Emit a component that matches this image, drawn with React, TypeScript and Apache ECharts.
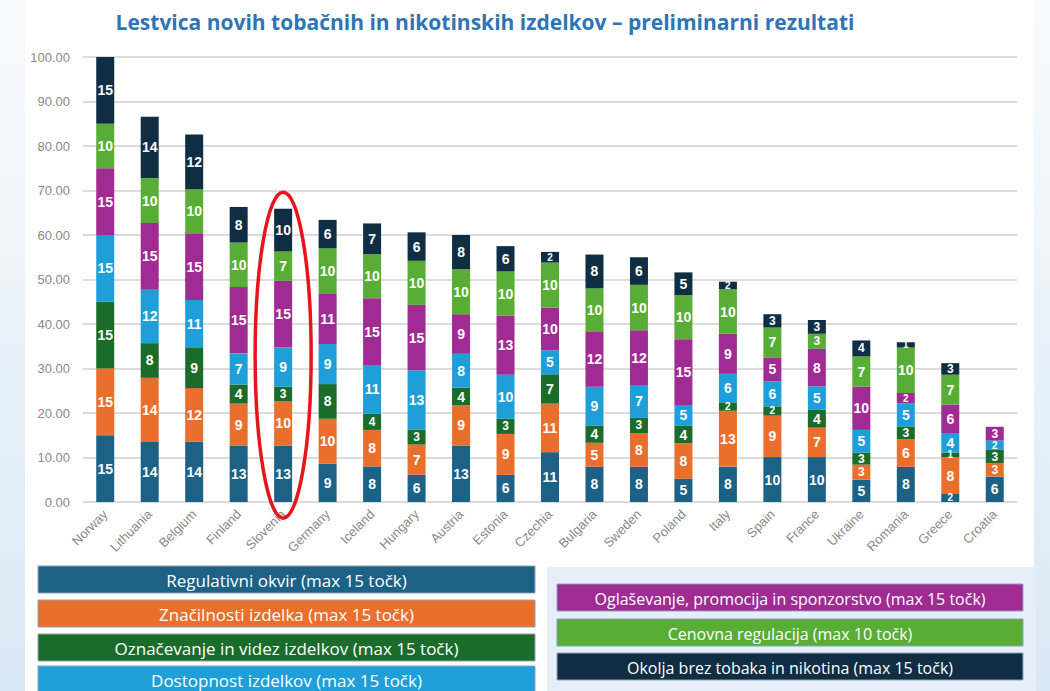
import React, { useEffect, useRef } from "react";
import * as echarts from "echarts";

const countries = ["Norway", "Lithuania", "Belgium", "Finland", "Slovenia", "Germany", "Iceland", "Hungary", "Austria", "Estonia", "Czechia", "Bulgaria", "Sweden", "Poland", "Italy", "Spain", "France", "Ukraine", "Romania", "Greece", "Croatia"];

const regulativni = [15, 13.5, 13.6, 12.7, 12.7, 8.6, 8.0, 6.1, 12.7, 6.1, 11.2, 7.9, 7.9, 5.2, 7.9, 10.1, 10.1, 5.0, 7.9, 1.8, 5.7];
const znacilnosti = [15, 14.4, 12.0, 9.4, 9.9, 10.1, 8.2, 6.8, 9.0, 9.2, 10.9, 5.4, 7.6, 8.0, 12.6, 9.3, 6.6, 3.4, 6.2, 8.3, 3.0];
const oznacevanje = [15, 7.8, 9.0, 4.3, 3.3, 7.8, 3.6, 3.4, 4.0, 3.4, 6.6, 3.9, 3.4, 3.9, 1.9, 2.1, 4.0, 2.7, 2.9, 1.0, 3.0];
const dostopnost = [15, 12.0, 10.8, 7.0, 8.8, 9.0, 11.0, 13.3, 7.6, 9.9, 5.4, 8.7, 7.4, 4.7, 6.4, 5.6, 5.3, 5.1, 5.2, 4.4, 2.1];
const oglasevanje = [15, 15.0, 15.0, 14.9, 15.0, 11.4, 15.0, 14.7, 8.9, 13.3, 9.6, 12.3, 12.3, 14.8, 9.0, 5.4, 8.4, 9.7, 2.3, 6.4, 3.1];
const cenovna = [10, 10.1, 9.9, 10.0, 6.6, 10.1, 9.9, 9.9, 10.1, 9.9, 10.1, 9.8, 10.2, 9.9, 10.0, 6.7, 3.4, 6.8, 10.2, 6.7, 0];
const okolja = [15, 13.8, 12.3, 8.0, 9.6, 6.4, 6.9, 6.4, 7.7, 5.7, 2.4, 7.6, 6.2, 5.1, 1.7, 3.0, 3.1, 3.6, 1.2, 2.6, 0];

const seriesNames = [
  "Regulativni okvir (max 15 točk)",
  "Značilnosti izdelka (max 15 točk)",
  "Označevanje in videz izdelkov (max 15 točk)",
  "Dostopnost izdelkov (max 15 točk)",
  "Oglaševanje, promocija in sponzorstvo (max 15 točk)",
  "Cenovna regulacija (max 10 točk)",
  "Okolja brez tobaka in nikotina (max 15 točk)",
];
const seriesValues = [regulativni, znacilnosti, oznacevanje, dostopnost, oglasevanje, cenovna, okolja];
const colors = ["#1c6287", "#ea6f2d", "#1b6b2b", "#1e9fd9", "#9f2b93", "#58ad34", "#0f2e44"];
const yTicks = [0, 10, 20, 30, 40, 50, 60, 70, 80, 90, 100];

const title = "Lestvica novih tobačnih in nikotinskih izdelkov – preliminarni rezultati";
const highlighted = "Slovenia";

export default function App() {
  const ref = useRef<HTMLDivElement>(null);
  useEffect(() => {
    if (!ref.current) return;
    const chart = echarts.init(ref.current, null, { renderer: "svg" });
    const series = seriesNames.map((name, i) => ({
      name,
      type: "bar",
      stack: "total",
      barWidth: 18,
      data: seriesValues[i].map((v) =>
        v < 2.5
          ? { value: v, label: { fontSize: 10, lineHeight: 10 } }
          : v < 3.7
          ? { value: v, label: { fontSize: 12, lineHeight: 12 } }
          : v
      ),
      itemStyle: { color: colors[i] },
      label: {
        show: true,
        position: "inside",
        color: "#ffffff",
        fontWeight: "bold",
        fontSize: 14,
        fontFamily: "Liberation Sans, Arial, sans-serif",
        formatter: (p: any) => (p.value > 0 ? String(Math.round(p.value)) : ""),
      },
    }));
    chart.setOption({
      animation: false,
      backgroundColor: "#ffffff",
      grid: { left: 83, right: 33, top: 57, bottom: 189, containLabel: false },
      xAxis: {
        type: "category",
        data: countries,
        axisLine: { show: false },
        axisTick: { show: false },
        axisLabel: { rotate: 45, color: "#8a8a8a", fontSize: 13, margin: 10, fontFamily: "Liberation Sans, Arial, sans-serif" },
      },
      yAxis: {
        type: "value",
        min: yTicks[0],
        max: yTicks[yTicks.length - 1],
        interval: 10,
        axisLine: { show: false },
        axisTick: { show: false },
        axisLabel: { color: "#8a8a8a", fontSize: 13, margin: 13, formatter: (v: number) => v.toFixed(2), fontFamily: "Liberation Sans, Arial, sans-serif" },
        splitLine: { lineStyle: { color: "#dcdcdc", width: 2 } },
      },
      series,
    });

    const px = Number(chart.convertToPixel({ xAxisIndex: 0 } as any, highlighted));
    const cy = Number(chart.convertToPixel({ yAxisIndex: 0 } as any, 33));

    const leftBoxes = [0, 1, 2, 3].map((i) => ({ idx: i, x: 38, y: [566, 600, 634, 666][i], w: 497, h: 27, fs: 17 }));
    const rightBoxes = [4, 5, 6].map((i, k) => ({ idx: i, x: 557, y: [584, 619, 653][k], w: 466, h: 27, fs: 16 }));
    const boxes = [...leftBoxes, ...rightBoxes];

    const stripGrad = new echarts.graphic.LinearGradient(0, 0, 0, 1, [
      { offset: 0, color: "#f8fbfd" },
      { offset: 1, color: "#d9e8f5" },
    ]);
    const graphic: any[] = [
      { type: "rect", shape: { x: 0, y: 0, width: 25, height: 691 }, style: { fill: stripGrad }, z: -1 },
      { type: "rect", shape: { x: 1034, y: 0, width: 16, height: 691 }, style: { fill: stripGrad }, z: -1 },
      { type: "rect", shape: { x: 547, y: 567, width: 489, height: 124 }, style: { fill: "#e6eff8" }, z: -1 },
      {
        type: "text",
        x: 485,
        y: 22,
        style: { text: title, fill: "#2f75b5", font: "bold 21px 'Open Sans', sans-serif", textAlign: "center", textVerticalAlign: "middle" },
      },
      {
        type: "ellipse",
        shape: { cx: px, cy: cy, rx: 28, ry: 163 },
        style: { fill: "none", stroke: "#e8141b", lineWidth: 3.5 },
        z: 100,
      },
    ];
    boxes.forEach((b) => {
      graphic.push({
        type: "rect",
        shape: { x: b.x, y: b.y, width: b.w, height: b.h },
        style: { fill: colors[b.idx], stroke: "#8aa3bb", lineWidth: 1 },
      });
      graphic.push({
        type: "text",
        x: b.x + b.w / 2,
        y: b.y + b.h / 2 + 1,
        style: { text: seriesNames[b.idx], fill: "#ffffff", font: `${b.fs}px 'Open Sans', sans-serif`, textAlign: "center", textVerticalAlign: "middle" },
      });
    });
    chart.setOption({ graphic });
    return () => chart.dispose();
  }, []);
  return <div ref={ref} style={{ position: "absolute", left: 0, top: 0, width: 1050, height: 691 }} />;
}
